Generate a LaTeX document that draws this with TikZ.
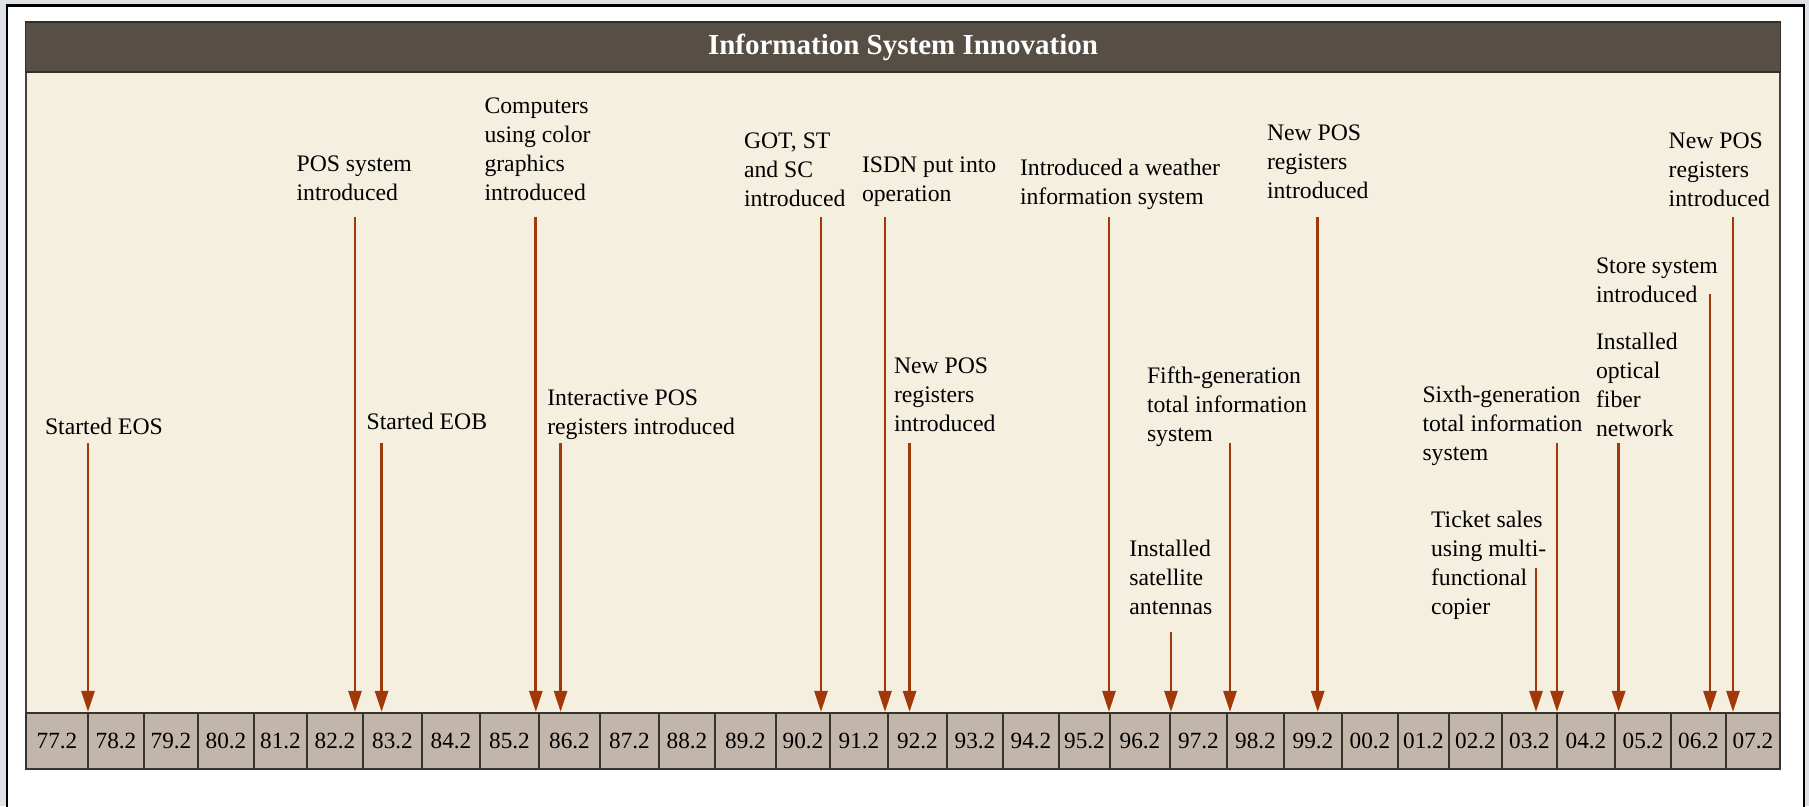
\documentclass[tikz,border=0pt]{standalone}
\usepackage{fontspec}
\setmainfont{Liberation Serif}
\usetikzlibrary{arrows.meta}
\definecolor{pagegray}{RGB}{222,226,230}
\definecolor{barbrown}{RGB}{87,79,70}
\definecolor{barline}{RGB}{50,46,42}
\definecolor{panelbeige}{RGB}{245,239,224}
\definecolor{panelline}{RGB}{70,66,60}
\definecolor{boxtan}{RGB}{193,182,169}
\definecolor{boxline}{RGB}{55,51,47}
\definecolor{arrowred}{RGB}{160,56,10}
\tikzset{
  lbl/.style={anchor=base west, inner sep=0pt, outer sep=0pt, font=\fontsize{23.7}{29}\selectfont, text=black},
  yearbox/.style={draw=boxline, line width=2.2pt, fill=boxtan, inner sep=0pt, minimum height=56pt, font=\fontsize{23.2}{28}\selectfont},
  arr/.style={draw=arrowred, line width=2.8pt, -{Triangle[length=21pt,width=13pt]}},
  titlebar/.style={fill=barbrown, draw=barline, line width=1.8pt, minimum width=1755pt, minimum height=50pt, inner sep=0pt, text=white, font=\fontsize{29}{34}\selectfont\bfseries},
}
\begin{document}
\begin{tikzpicture}[x=1pt,y=-1pt]
\useasboundingbox (0,0) rectangle (1809,806);
\fill[pagegray] (0,0) rectangle (1809,806);
\fill[white] (7,5.5) rectangle (1804,806);
\draw[black, line width=2.5pt] (7,812) -- (7,5.5) -- (1804,5.5) -- (1804,812);

% panel
\fill[panelbeige] (26,72) rectangle (1780,713);
\draw[panelline, line width=2pt] (26,72) -- (26,713) (1780,72) -- (1780,713);

% title
\node[titlebar] (title) at (903,47) {Information System Innovation};

% year boxes
\foreach \l/\r/\lab [count=\i] in {
  26/88/77.2, 88/144/78.2, 144/198/79.2, 198/254/80.2, 254/307/81.2,
  307/363/82.2, 363/422/83.2, 422/480/84.2, 480/539/85.2, 539/600/86.2,
  600/659/87.2, 659/715/88.2, 715/776/89.2, 776/830/90.2, 830/888/91.2,
  888/947/92.2, 947/1003/93.2, 1003/1059/94.2, 1059/1110/95.2, 1110/1170/96.2,
  1170/1227/97.2, 1227/1284/98.2, 1284/1342/99.2, 1342/1398/00.2, 1398/1449/01.2,
  1449/1502/02.2, 1502/1557/03.2, 1557/1615/04.2, 1615/1671/05.2, 1671/1726/06.2,
  1726/1780/07.2}{
  \pgfmathsetmacro{\cx}{(\l+\r)/2}
  \pgfmathsetmacro{\w}{\r-\l}
  \node[yearbox, minimum width=\w pt] (b\i) at (\cx,741) {\lab};
}

% labels
\node[lbl] (t1) at (45,434) {\vtop{\hbox{Started EOS}}};
\node[lbl] (t2) at (296.6,171.7) {\vtop{\hbox{POS system}\hbox{introduced}}};
\node[lbl] (t3) at (366.6,429) {\vtop{\hbox{Started EOB}}};
\node[lbl] (t4) at (484.5,113.3) {\vtop{\hbox{Computers}\hbox{using color}\hbox{graphics}\hbox{introduced}}};
\node[lbl] (t5) at (547.3,405) {\vtop{\hbox{Interactive POS}\hbox{registers introduced}}};
\node[lbl] (t6) at (744,148.3) {\vtop{\hbox{GOT, ST}\hbox{and SC}\hbox{introduced}}};
\node[lbl] (t7) at (862,172.7) {\vtop{\hbox{ISDN put into}\hbox{operation}}};
\node[lbl] (t8) at (894,373.3) {\vtop{\hbox{New POS}\hbox{registers}\hbox{introduced}}};
\node[lbl] (t9) at (1020,175) {\vtop{\hbox{Introduced a weather}\hbox{information system}}};
\node[lbl] (t10) at (1129.4,556) {\vtop{\hbox{Installed}\hbox{satellite}\hbox{antennas}}};
\node[lbl] (t11) at (1147,383.3) {\vtop{\hbox{Fifth-generation}\hbox{total information}\hbox{system}}};
\node[lbl] (t12) at (1267,140) {\vtop{\hbox{New POS}\hbox{registers}\hbox{introduced}}};
\node[lbl] (t13) at (1431,527.7) {\vtop{\hbox{Ticket sales}\hbox{using multi-}\hbox{functional}\hbox{copier}}};
\node[lbl] (t14) at (1422.5,402.7) {\vtop{\hbox{Sixth-generation}\hbox{total information}\hbox{system}}};
\node[lbl] (t15) at (1596,349.3) {\vtop{\hbox{Installed}\hbox{optical}\hbox{fiber}\hbox{network}}};
\node[lbl] (t16) at (1596,273.3) {\vtop{\hbox{Store system}\hbox{introduced}}};
\node[lbl] (t17) at (1668.7,148.3) {\vtop{\hbox{New POS}\hbox{registers}\hbox{introduced}}};

% arrow start points
\coordinate (s1) at (88,443);
\coordinate (s2) at (355,217);
\coordinate (s3) at (381.6,443);
\coordinate (s4) at (535.8,217);
\coordinate (s5) at (560.6,443);
\coordinate (s6) at (821,217);
\coordinate (s7) at (885,217);
\coordinate (s8) at (909.6,443);
\coordinate (s9) at (1109,217);
\coordinate (s10) at (1171,632);
\coordinate (s11) at (1230,443);
\coordinate (s12) at (1317.7,217);
\coordinate (s13) at (1536,568);
\coordinate (s14) at (1557,443);
\coordinate (s15) at (1618.6,443);
\coordinate (s16) at (1710,294);
\coordinate (s17) at (1733,217);

\foreach \s/\b in {1/2, 2/6, 3/7, 4/9, 5/10, 6/14, 7/15, 8/16, 9/19, 10/20,
  11/22, 12/23, 13/27, 14/28, 15/29, 16/30, 17/31}{
  \draw[arr] (s\s) -- (s\s |- b\b.north);
}
\end{tikzpicture}
\end{document}
